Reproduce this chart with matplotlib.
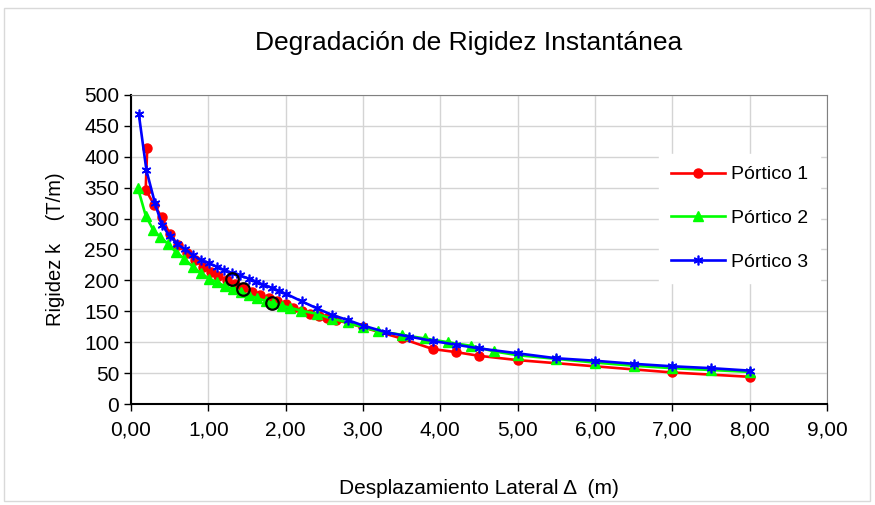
import matplotlib.pyplot as plt
from matplotlib.patches import Rectangle

plt.rcParams['font.family'] = ['Liberation Sans', 'DejaVu Sans']

# Pórtico 1
x1 = [0.21, 0.19, 0.30, 0.40, 0.50, 0.61, 0.72, 0.83, 0.93, 1.03, 1.13, 1.24,
      1.34, 1.45, 1.56, 1.67, 1.78, 1.89, 2.00, 2.10, 2.21, 2.32, 2.43, 2.54,
      2.65, 3.00, 3.50, 3.90, 4.20, 4.50, 5.00, 7.00, 8.00]
k1 = [414, 347, 322, 302, 275, 258, 244, 233, 222, 214, 207, 200,
      194, 187, 181, 176, 171, 166, 162, 156, 150, 146, 142, 139,
      136, 124, 106, 89, 84, 78, 71, 51, 44]

# Pórtico 2
x2 = [0.09, 0.19, 0.29, 0.38, 0.48, 0.58, 0.69, 0.80, 0.90, 1.01, 1.11, 1.21,
      1.32, 1.42, 1.53, 1.63, 1.74, 1.84, 1.95, 2.05, 2.20, 2.40, 2.60, 2.80,
      3.00, 3.20, 3.50, 3.80, 4.10, 4.40, 4.70, 5.00, 5.50, 6.00, 6.50, 7.00,
      7.50, 8.00]
k2 = [349, 305, 281, 270, 259, 246, 235, 222, 212, 203, 197, 191,
      186, 181, 176, 171, 167, 163, 159, 156, 151, 146, 138, 132,
      124, 118, 112, 106, 100, 94, 85, 79, 73, 67, 62, 58,
      55, 52]

# Pórtico 3
x3 = [0.10, 0.20, 0.31, 0.40, 0.50, 0.60, 0.70, 0.80, 0.90, 1.01, 1.11, 1.20,
      1.30, 1.41, 1.52, 1.62, 1.71, 1.82, 1.91, 2.01, 2.21, 2.40, 2.60, 2.80,
      3.00, 3.30, 3.60, 3.90, 4.20, 4.50, 5.00, 5.50, 6.00, 6.50, 7.00, 7.50,
      8.00]
k3 = [470, 378, 325, 290, 272, 259, 250, 241, 233, 228, 222, 217,
      212, 208, 203, 198, 193, 188, 183, 178, 166, 155, 144, 136,
      127, 116, 109, 102, 96, 90, 82, 74, 70, 65, 61, 58,
      54]

# puntos marcados (círculos negros)
xc = [1.31, 1.45, 1.82]
kc = [202, 186, 164]

fig = plt.figure(figsize=(8.75, 5.05), dpi=100)
ax = fig.add_axes([0.1497, 0.2, 0.7954, 0.6119])

ax.plot(x1, k1, color='#ff0000', lw=1.9, marker='o', ms=6.5, label='Pórtico 1')
ax.plot(x2, k2, color='#00ff00', lw=1.9, marker='^', ms=6.5, label='Pórtico 2')
ax.plot(x3, k3, color='#0000ff', lw=1.9, marker=(6, 2, 0), ms=7, mew=1.2,
        label='Pórtico 3')
ax.plot(xc, kc, ls='none', marker='o', ms=9, mfc='none', mec='black', mew=1.6)

ax.set_xlim(0, 9)
ax.set_ylim(0, 500)
ax.set_xticks(range(0, 10))
ax.set_xticklabels([f'{v},00' for v in range(0, 10)])
ax.set_yticks(range(0, 501, 50))
ax.grid(True, color='#d4d4d4', lw=1)
ax.set_axisbelow(True)
ax.tick_params(labelsize=15, direction='out', length=5, width=1)
ax.tick_params(axis='x', pad=7)
for s in ['top', 'right']:
    ax.spines[s].set_color('#808080')
ax.spines['left'].set_linewidth(1.5)
ax.spines['bottom'].set_linewidth(1.5)

ax.set_ylabel('Rigidez k    (T/m)', fontsize=14.5, labelpad=14)
ax.set_xlabel('Desplazamiento Lateral Δ  (m)', fontsize=15, labelpad=28)
fig.text(0.536, 0.915, 'Degradación de Rigidez Instantánea', fontsize=19,
         ha='center', va='center')

leg = ax.legend(loc='upper left', bbox_to_anchor=(0.745, 0.84), fontsize=14,
                frameon=True, fancybox=False, edgecolor='white', facecolor='white',
                framealpha=1, labelspacing=1.35, handlelength=2.8,
                handletextpad=0.3, borderpad=0.6)

fig.patches.append(Rectangle((0.004, 0.008), 0.99, 0.976, transform=fig.transFigure,
                             fill=False, edgecolor='#d9d9d9', lw=1))

fig.savefig('out.png', dpi=100)
